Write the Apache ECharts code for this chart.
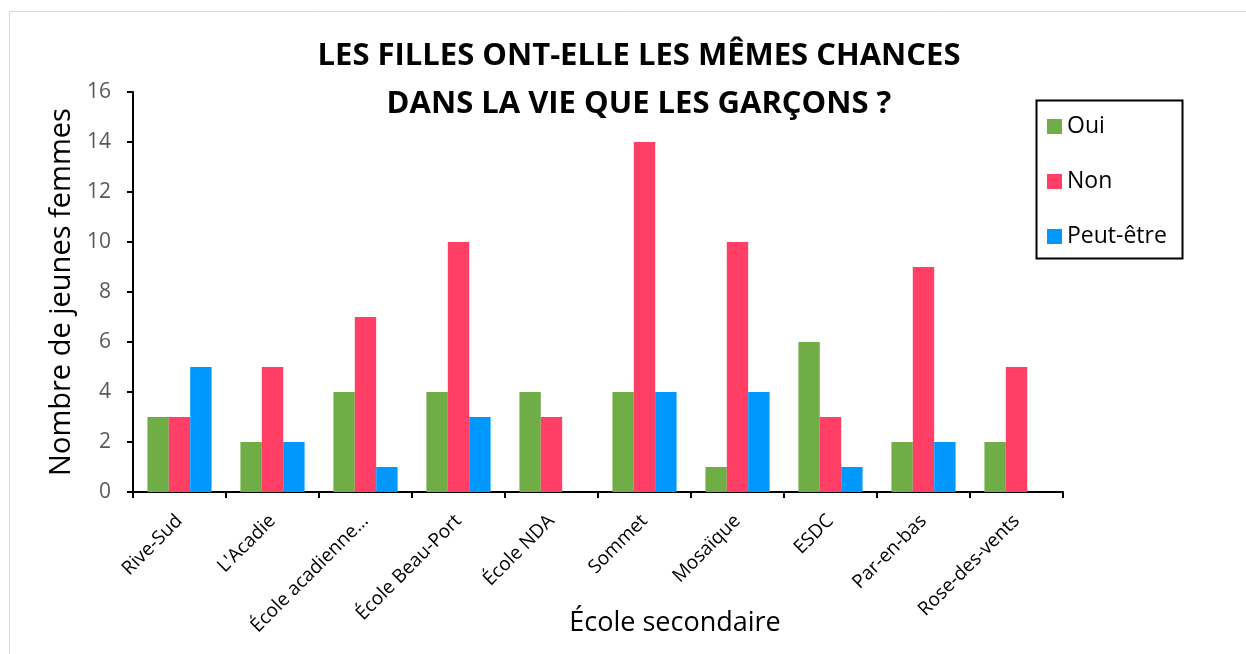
<!DOCTYPE html>
<html>
<head>
<meta charset="utf-8">
<script src="https://cdn.jsdelivr.net/npm/echarts@6/dist/echarts.min.js"></script>
<style>
  html, body { margin: 0; padding: 0; background: #fff; }
  #chart { width: 1246px; height: 654px; }
</style>
</head>
<body>
<div id="chart"></div>
<script>
// écoles (axe des x)
var ecoles = ['Rive-Sud', "L'Acadie", 'École acadienne…', 'École Beau-Port', 'École NDA',
              'Sommet', 'Mosaïque', 'ESDC', 'Par-en-bas', 'Rose-des-vents'];
// réponses
var oui      = [3, 2, 4, 4, 4, 4, 1, 6, 2, 2];
var non      = [3, 5, 7, 10, 3, 14, 10, 3, 9, 5];
var peutEtre = [5, 2, 1, 3, 0, 4, 4, 1, 2, 0];
var yTicks = [0, 2, 4, 6, 8, 10, 12, 14, 16];

var police = '"Open Sans", "Noto Sans", sans-serif';
var chart = echarts.init(document.getElementById('chart'));

function serie(nom, data, couleur) {
  return {
    name: nom, type: 'bar', data: data,
    barGap: 0, barCategoryGap: '31%',
    itemStyle: { color: couleur }
  };
}

chart.setOption({
  animation: false,
  textStyle: { fontFamily: police },
  title: {
    text: 'LES FILLES ONT-ELLE LES MÊMES CHANCES\nDANS LA VIE QUE LES GARÇONS ?',
    left: 634, top: 27, textAlign: 'center',
    textStyle: { fontSize: 31, fontWeight: 'bold', color: '#000', lineHeight: 48, fontFamily: police }
  },
  legend: {
    orient: 'vertical', left: 1047, top: 115,
    padding: 0,
    itemGap: 32, itemWidth: 15, itemHeight: 15,
    icon: 'rect',
    textStyle: { fontSize: 23, color: '#000', fontFamily: police }
  },
  graphic: [{
    type: 'rect', silent: true,
    shape: { x: 9.5, y: 11.5, width: 1300, height: 700 },
    style: { fill: 'none', stroke: '#d9d9d9', lineWidth: 1 }
  }, {
    type: 'rect', silent: true,
    shape: { x: 1036.5, y: 100.5, width: 146, height: 158 },
    style: { fill: 'none', stroke: '#000', lineWidth: 2 }
  }],
  grid: { left: 133, right: 183, top: 92, bottom: 162, outerBoundsMode: 'none', containLabel: false },
  xAxis: {
    type: 'category', data: ecoles,
    name: 'École secondaire', nameLocation: 'middle', nameGap: 118, nameMoveOverlap: false,
    nameTextStyle: { fontSize: 27, color: '#000', fontFamily: police, padding: [0, 0, 0, 154] },
    axisLine: { lineStyle: { color: '#000', width: 2 } },
    axisTick: { show: true, length: 6, lineStyle: { color: '#000', width: 2 } },
    axisLabel: { rotate: 45, fontSize: 19, color: '#000', margin: 26, interval: 0 }
  },
  yAxis: {
    type: 'value', min: yTicks[0], max: yTicks[yTicks.length - 1], interval: 2,
    name: 'Nombre de jeunes femmes', nameLocation: 'middle', nameGap: 57,
    nameTextStyle: { fontSize: 29, color: '#000', fontFamily: police },
    axisLine: { show: true, lineStyle: { color: '#000', width: 2 } },
    axisTick: { show: true, length: 6, lineStyle: { color: '#000', width: 2 } },
    splitLine: { show: false },
    axisLabel: { fontSize: 21, color: '#595959', margin: 22 }
  },
  series: [
    serie('Oui', oui, '#70ad47'),
    serie('Non', non, '#ff3f66'),
    serie('Peut-être', peutEtre, '#0098ff')
  ]
});
</script>
</body>
</html>
